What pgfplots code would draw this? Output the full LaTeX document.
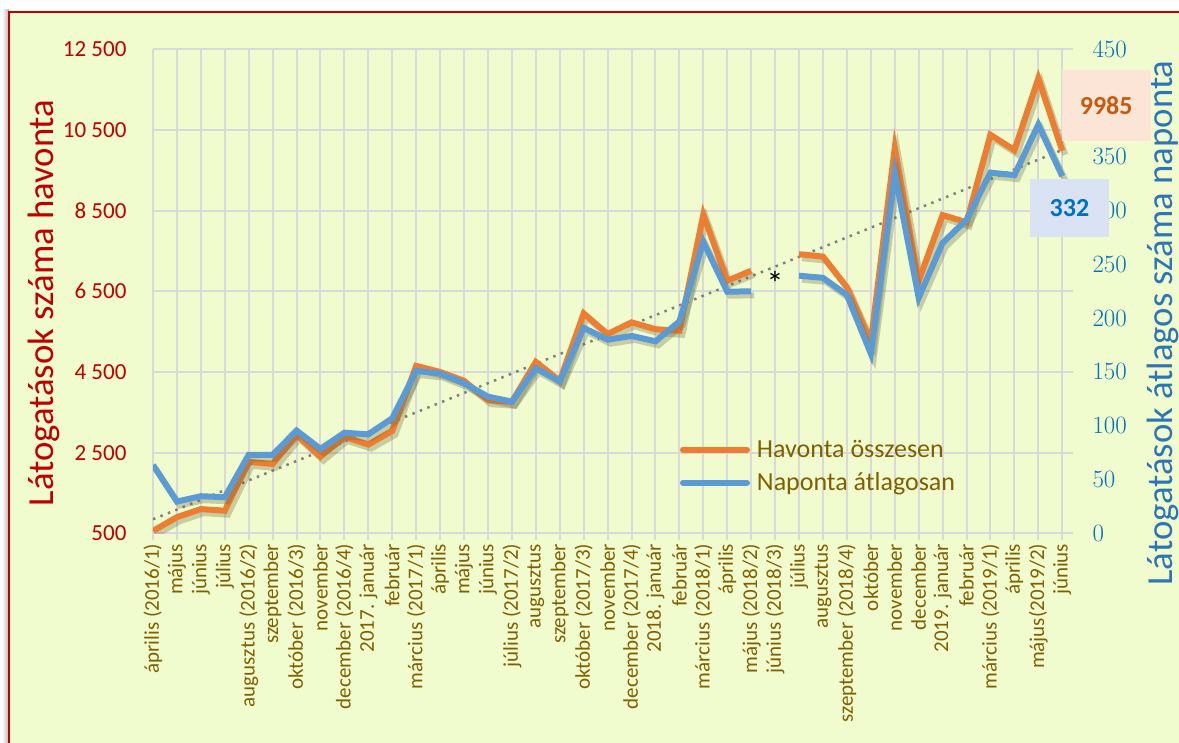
\documentclass[border=0pt]{standalone}
\usepackage{fontspec}
\setmainfont{Carlito}
\usepackage{pgfplots}
\pgfplotsset{compat=1.18}
\definecolor{bg}{RGB}{240,251,206}
\definecolor{gridc}{RGB}{217,217,217}
\definecolor{orng}{RGB}{237,125,49}
\definecolor{blu}{RGB}{91,155,213}
\definecolor{redc}{RGB}{192,0,0}
\definecolor{tickblue}{RGB}{0,112,192}
\definecolor{labblue}{RGB}{46,117,182}
\definecolor{olive}{RGB}{127,96,0}
\definecolor{shad}{RGB}{100,100,60}
\definecolor{trendc}{RGB}{128,128,128}
\definecolor{pinkbox}{RGB}{251,229,214}
\definecolor{bluebox}{RGB}{218,227,243}
\definecolor{boxorange}{RGB}{197,90,17}

\pgfplotstableread{
x havi
0 560
1 900
2 1100
3 1060
4 2270
5 2220
6 2940
7 2400
8 2890
9 2700
10 3040
11 4650
12 4500
13 4280
14 3800
15 3760
16 4750
17 4280
18 5950
19 5440
20 5730
21 5560
22 5520
23 8400
24 6760
25 7010
26 nan
27 7420
28 7360
29 6600
30 5250
31 10050
32 6760
33 8390
34 8210
35 10380
36 10000
37 11780
38 9985
}\havi

\pgfplotstableread{
x napi
0 63.5
1 29.5
2 34.5
3 33.5
4 73
5 73
6 95.5
7 78.5
8 93.5
9 92
10 107
11 151
12 148.5
13 139.5
14 127
15 122.5
16 153.5
17 141
18 191
19 180
20 183.5
21 178.5
22 197
23 271
24 224.6
25 225
26 nan
27 239.5
28 237.5
29 221.6
30 167
31 335
32 219
33 270
34 291.5
35 335.3
36 333
37 380
38 332
}\napi

\pgfplotstableread{
x trend
0 847
38 10005
}\trend

\begin{document}
\begin{tikzpicture}
\useasboundingbox (0pt,0pt) rectangle (1179pt,743pt);
\fill[white] (0pt,0pt) rectangle (1179pt,743pt);
\shade[left color=white,right color=black!30] (2pt,0pt) rectangle (9pt,733pt);
\fill[bg] (9pt,0pt) rectangle (1179pt,731pt);
\draw[redc, line width=2pt] (9pt,0pt) -- (9pt,731pt) -- (1179pt,731pt);

\begin{axis}[
  at={(153pt,209.7pt)}, anchor=south west,
  width=920pt, height=484pt, scale only axis,
  xmin=0, xmax=38.45, ymin=500, ymax=12500,
  scaled y ticks=false,
  axis line style={draw=none},
  unbounded coords=jump,
  xtick={0,...,38},
  xticklabels={április (2016/1), május, június, július, augusztus (2016/2), szeptember, október (2016/3), november, december (2016/4), 2017. január, február, március (2017/1), április, május, június, július (2017/2), augusztus, szeptember, október (2017/3), november, december (2017/4), 2018. január, február, március (2018/1), április, május (2018/2), június (2018/3), július, augusztus, szeptember (2018/4), október, november, december, 2019. január, február, március (2019/1), április, május(2019/2), június},
  ytick={500,2500,4500,6500,8500,10500,12500},
  yticklabels={500,2 500,4 500,6 500,8 500,10 500,12 500},
  grid=major,
  major grid style={gridc, line width=2pt},
  tick align=outside,
  xtick pos=bottom,
  major tick length=7pt,
  xtick style={gridc, line width=2pt},
  ytick style={draw=none},
  yticklabel style={font=\fontsize{23}{27}\selectfont, text=redc, xshift=-16pt},
  xticklabel style={rotate=90, anchor=east, font=\fontsize{21}{24}\selectfont, text=olive},
]
\addplot[trendc, line width=2.5pt, dash pattern=on 2.5pt off 5.5pt] table[x=x,y=trend] {\trend};
\addplot[shad, opacity=0.3, line width=6pt, xshift=3pt, yshift=-4pt] table[x=x,y=havi] {\havi};
\addplot[orng, line width=6pt] table[x=x,y=havi] {\havi};
\node[font=\fontsize{34}{38}\selectfont] at (axis cs:26,6700) {*};
\end{axis}

\begin{axis}[
  at={(153pt,209.7pt)}, anchor=south west,
  width=920pt, height=484pt, scale only axis,
  xmin=0, xmax=38.45, ymin=0, ymax=450,
  hide x axis,
  axis y line*=right,
  axis line style={draw=none},
  unbounded coords=jump,
  ytick={0,50,...,450},
  ytick style={draw=none},
  yticklabel style={font=\fontsize{23}{27}\selectfont, text=tickblue, xshift=16pt},
  legend style={at={(0.5728,0.1965)}, anchor=north west, draw=none, fill=none,
    inner sep=0pt, outer sep=0pt, row sep=10pt, column sep=5pt,
    font=\fontsize{26}{30}\selectfont, text=olive},
  legend cell align=left,
  legend image code/.code={\draw[#1, line cap=round] (3pt,0pt) -- (67pt,0pt);},
]
\addlegendimage{orng, line width=6pt}
\addlegendentry{Havonta összesen}
\addplot[shad, opacity=0.3, line width=6pt, xshift=3pt, yshift=-4pt, forget plot] table[x=x,y=napi] {\napi};
\addplot[blu, line width=6pt] table[x=x,y=napi] {\napi};
\addlegendentry{Naponta átlagosan}
\end{axis}

\node[rotate=90, anchor=base, text=redc, font=\fontsize{36.7}{40}\selectfont] at (53pt,440pt) {Látogatások száma havonta};
\node[rotate=90, anchor=base, text=labblue, font=\fontsize{36.7}{40}\selectfont] at (1172pt,420pt) {Látogatások átlagos száma naponta};

\node[fill=pinkbox, minimum width=89pt, minimum height=70.7pt, inner sep=0pt, text=boxorange, font=\bfseries\fontsize{26}{30}\selectfont] at (1106.2pt,637.6pt) {9985};
\node[fill=bluebox, minimum width=79pt, minimum height=57.7pt, inner sep=0pt, text=tickblue, font=\bfseries\fontsize{26}{30}\selectfont] at (1069.5pt,535.1pt) {332};
\end{tikzpicture}
\end{document}
